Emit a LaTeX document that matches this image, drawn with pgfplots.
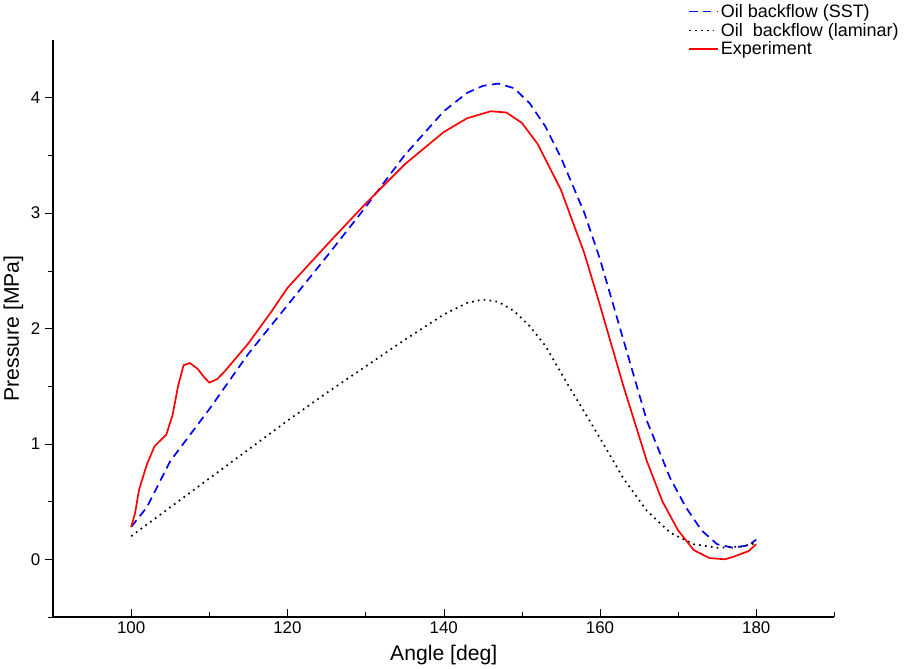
\documentclass[border=0pt]{standalone}
\usepackage{fontspec}
\setmainfont{Liberation Sans}
\usepackage{pgfplots}
\pgfplotsset{compat=1.18}
\begin{document}
\begin{tikzpicture}
\begin{axis}[
  scale only axis, width=739pt, height=546pt,
  xmin=90, xmax=190, ymin=-0.5, ymax=4.5,
  axis x line*=bottom, axis y line*=left,
  xtick={100,120,...,180}, minor xtick={110,130,...,170,190},
  ytick={0,1,2,3,4}, minor ytick={-0.5,0.5,1.5,2.5,3.5},
  major tick length=8pt, minor tick length=5pt,
  tick style={black},
  xtick align=inside, ytick align=outside,
  tick label style={font=\fontsize{16}{18}\selectfont},
  /pgf/number format/assume math mode=true,
  xlabel={Angle [deg]}, ylabel={Pressure [MPa]},
  label style={font=\fontsize{20}{24}\selectfont},
  xlabel style={yshift=-4pt},
  legend style={at={(1.09,1.07)}, anchor=north east, draw=none, fill=white,
    font=\fontsize{17}{20}\selectfont, row sep=0pt},
  legend cell align=left,
  legend image post style={xscale=1.6},
  line width=1.3pt,
]
\addplot[blue, line width=1.6pt, dash pattern=on 8pt off 5pt] coordinates {
(100,0.28)(102,0.45)(105,0.85)(110,1.3)(115,1.78)(120,2.2)(125,2.62)(130,3.05)(135,3.5)(140,3.88)(143,4.04)(145,4.1)(147,4.12)(149,4.08)(151,3.95)(153,3.75)(155,3.48)(158,3.0)(160,2.6)(163,1.9)(166,1.2)(169,0.7)(171,0.45)(173,0.25)(175,0.13)(177,0.1)(179,0.12)(180,0.17)};
\addlegendentry{Oil backflow (SST)}
\addplot[black, line width=1.6pt, dash pattern=on 1.6pt off 4pt] coordinates {
(100,0.2)(105,0.45)(110,0.7)(115,0.95)(120,1.2)(125,1.44)(130,1.67)(135,1.9)(140,2.12)(143,2.22)(145,2.25)(147,2.23)(149,2.15)(151,2.02)(153,1.85)(156,1.5)(160,1.05)(163,0.7)(166,0.42)(169,0.23)(172,0.13)(175,0.1)(178,0.11)(180,0.14)};
\addlegendentry{Oil\ \ backflow (laminar)}
\addplot[red, line width=1.6pt] coordinates {
(100,0.28)(100.5,0.4)(101,0.6)(102,0.82)(103,0.98)(104.5,1.08)(105.3,1.25)(106,1.5)(106.7,1.68)(107.5,1.7)(108.5,1.65)(109.3,1.58)(110,1.53)(111,1.56)(112,1.63)(115,1.87)(118,2.15)(120,2.35)(125,2.72)(130,3.08)(135,3.42)(140,3.7)(143,3.82)(146,3.88)(148,3.87)(150,3.78)(152,3.6)(155,3.2)(158,2.65)(160,2.2)(163,1.5)(166,0.85)(168,0.5)(170,0.25)(172,0.08)(174,0.01)(176,0.0)(177,0.02)(179,0.07)(180,0.13)};
\addlegendentry{Experiment}
\end{axis}
\end{tikzpicture}
\end{document}
